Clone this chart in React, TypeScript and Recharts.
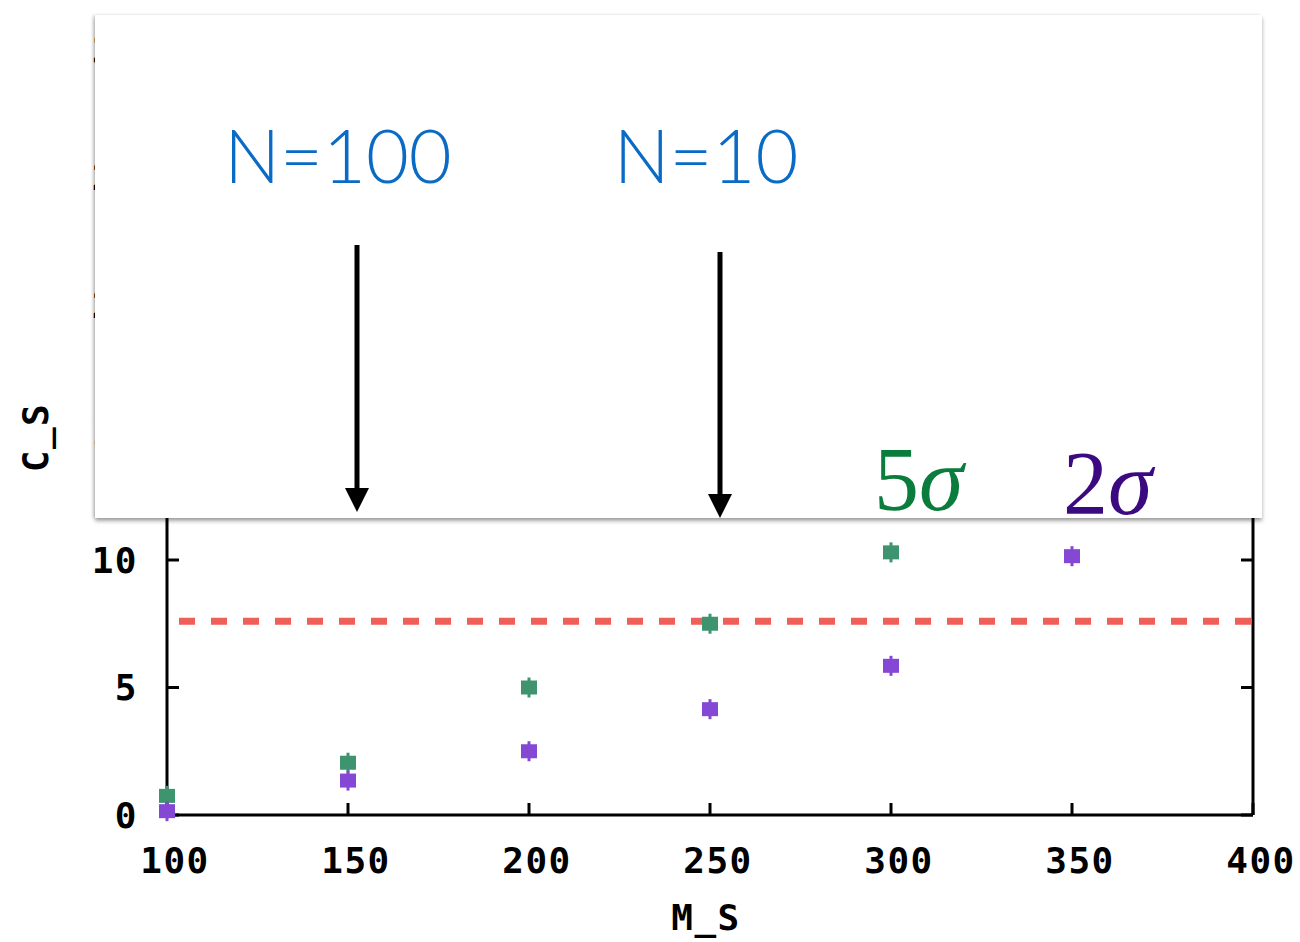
import React from "react";
import { ScatterChart, Scatter, XAxis, YAxis, ReferenceLine, Label } from "recharts";

// M_S values and C_S readings for the two significance levels
const massValues = [100, 150, 200, 250, 300, 350];
const fiveSigma = [0.75, 2.05, 5.0, 7.5, 10.3];
const twoSigma = [0.15, 1.35, 2.5, 4.15, 5.85, 10.15];
const xTicks = [100, 150, 200, 250, 300, 350, 400];
const yTicks = [0, 5, 10, 15, 20, 25, 30];
const threshold = 7.6;

const greenData = fiveSigma.map((c, i) => ({ m: massValues[i], c }));
const purpleData = twoSigma.map((c, i) => ({ m: massValues[i], c }));

const tickFont = {
  fontFamily: "'DejaVu Sans Mono', monospace",
  fontWeight: 700,
  fontSize: 36,
  letterSpacing: 1.5,
  fill: "#000",
};

const Marker = (props: any) => {
  const { cx, cy, fill } = props;
  if (cx == null || cy == null) return null;
  return (
    <g>
      <rect x={cx - 8} y={cy - 7} width={16} height={14} fill={fill} />
      <rect x={cx - 1.5} y={cy - 10} width={3} height={20} fill={fill} />
    </g>
  );
};

const Nothing = () => <g />;

const Arrow = ({ x, y1, y2 }: { x: number; y1: number; y2: number }) => (
  <g>
    <line x1={x} y1={y1} x2={x} y2={y2 - 22} stroke="#000" strokeWidth={5} />
    <polygon points={`${x - 12},${y2 - 24} ${x + 12},${y2 - 24} ${x},${y2}`} fill="#000" />
  </g>
);

const axisStroke = { stroke: "#000", strokeWidth: 3 };
const blank = () => "";

export default function App() {
  return (
    <div style={{ position: "absolute", left: 0, top: 0, width: 1300, height: 942, background: "#fff" }}>
      <ScatterChart width={1300} height={942} margin={{ top: 50, right: 47, bottom: 67, left: 87 }}>
        <XAxis
          xAxisId="b"
          dataKey="m"
          type="number"
          domain={[100, 400]}
          ticks={xTicks}
          height={60}
          tick={{ ...tickFont, dx: 8 }}
          tickLine={false}
          tickSize={0}
          tickMargin={32}
          axisLine={axisStroke}
        >
          <Label
            content={({ viewBox }: any) => (
              <text
                x={viewBox.x + viewBox.width / 2 - 4}
                y={930}
                textAnchor="middle"
                {...tickFont}
              >
                M_S
              </text>
            )}
          />
        </XAxis>
        <XAxis
          xAxisId="bt"
          dataKey="m"
          type="number"
          domain={[100, 400]}
          allowDataOverflow
          ticks={xTicks}
          mirror
          height={1}
          tickFormatter={blank}
          tickSize={12}
          tickLine={axisStroke}
          axisLine={false}
        />
        <XAxis
          xAxisId="t"
          orientation="top"
          dataKey="m"
          type="number"
          domain={[100, 400]}
          allowDataOverflow
          ticks={xTicks}
          mirror
          height={1}
          tickFormatter={blank}
          tickSize={12}
          tickLine={axisStroke}
          axisLine={axisStroke}
        />
        <YAxis
          yAxisId="l"
          dataKey="c"
          type="number"
          domain={[0, 30]}
          ticks={yTicks}
          width={80}
          tick={tickFont}
          tickLine={false}
          tickSize={0}
          tickMargin={29}
          axisLine={axisStroke}
        >
          <Label
            content={({ viewBox }: any) => {
              const cx = 35;
              const cy = viewBox.y + viewBox.height / 2 + 5;
              return (
                <text
                  x={cx}
                  y={cy}
                  textAnchor="middle"
                  dominantBaseline="central"
                  transform={`rotate(-90 ${cx} ${cy})`}
                  {...tickFont}
                >
                  C_S
                </text>
              );
            }}
          />
        </YAxis>
        <YAxis
          yAxisId="lt"
          dataKey="c"
          type="number"
          domain={[0, 30]}
          allowDataOverflow
          ticks={yTicks}
          mirror
          width={1}
          tickFormatter={blank}
          tickSize={12}
          tickLine={axisStroke}
          axisLine={false}
        />
        <YAxis
          yAxisId="r"
          orientation="right"
          dataKey="c"
          type="number"
          domain={[0, 30]}
          allowDataOverflow
          ticks={yTicks}
          mirror
          width={1}
          tickFormatter={blank}
          tickSize={12}
          tickLine={axisStroke}
          axisLine={axisStroke}
        />
        <ReferenceLine
          xAxisId="b"
          yAxisId="l"
          y={threshold}
          stroke="#ef5f59"
          strokeWidth={7}
          strokeDasharray="16 16"
          strokeDashoffset={20}
        />
        {/* invisible series so the tick-only axes get their scales */}
        <Scatter xAxisId="bt" yAxisId="lt" data={greenData} shape={Nothing} isAnimationActive={false} />
        <Scatter xAxisId="t" yAxisId="r" data={greenData} shape={Nothing} isAnimationActive={false} />
        <Scatter
          xAxisId="b"
          yAxisId="l"
          data={greenData}
          fill="#3f9470"
          shape={Marker}
          isAnimationActive={false}
        />
        <Scatter
          xAxisId="b"
          yAxisId="l"
          data={purpleData}
          fill="#8448d4"
          shape={Marker}
          isAnimationActive={false}
        />
      </ScatterChart>

      {/* white annotation panel laid over the top of the plot */}
      <div
        style={{
          position: "absolute",
          left: 95,
          top: 15,
          width: 1167,
          height: 503,
          background: "#fff",
          boxShadow: "0 3px 4px rgba(0,0,0,0.35), -2px 0 3px rgba(0,0,0,0.15)",
        }}
      />
      <svg
        width={1300}
        height={942}
        style={{ position: "absolute", left: 0, top: 0, pointerEvents: "none" }}
      >
        <g fontFamily="Lato, 'Open Sans', sans-serif" fontWeight={300} fontSize={74} fill="#0a6bc7">
          <text x={338} y={183} textAnchor="middle">N=100</text>
          <text x={706} y={183} textAnchor="middle">N=10</text>
        </g>
        <Arrow x={357} y1={245} y2={512} />
        <Arrow x={720} y1={252} y2={518} />
        <text x={874} y={510} fontFamily="'Liberation Serif', serif" fontSize={90} fill="#0a7c3c">
          5<tspan fontStyle="italic">σ</tspan>
        </text>
        <text x={1063} y={514} fontFamily="'Liberation Serif', serif" fontSize={90} fill="#3c0a80">
          2<tspan fontStyle="italic">σ</tspan>
        </text>
      </svg>
    </div>
  );
}
